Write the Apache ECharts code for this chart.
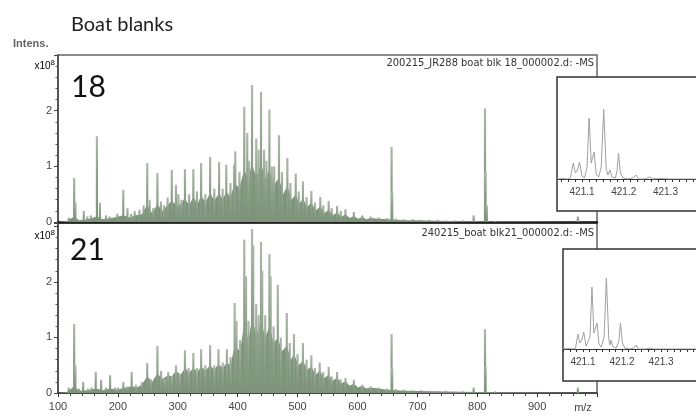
<!DOCTYPE html>
<html><head><meta charset="utf-8">
<script src="https://cdn.jsdelivr.net/npm/echarts@6/dist/echarts.min.js"></script>
<style>html,body{margin:0;padding:0;background:#fff}#c{width:696px;height:417px}</style>
</head><body><div id="c"></div>
<script>
// ---- data (intensity in units of 1e8, m/z) ----
const topFill = [[100,0],[115,0.02],[127,0.1],[135,0.03],[150,0.05],[165,0.1],[175,0.05],[190,0.07],[209,0.12],[220,0.08],[230,0.12],[240,0.14],[249,0.3],[257,0.16],[266,0.32],[274,0.2],[283,0.3],[290,0.38],[300,0.28],[312,0.42],[319,0.3],[326,0.45],[333,0.32],[339,0.48],[346,0.35],[354,0.52],[361,0.38],[369,0.52],[375,0.4],[381,0.55],[388,0.45],[395,0.7],[403,0.6],[411,0.95],[417,0.75],[424,1.05],[431,0.8],[439,1.05],[446,0.78],[453,0.95],[460,0.65],[469,0.8],[476,0.5],[483,0.65],[490,0.4],[497,0.5],[503,0.33],[509,0.42],[516,0.27],[523,0.35],[530,0.2],[538,0.28],[545,0.16],[552,0.22],[559,0.12],[566,0.17],[573,0.09],[580,0.14],[587,0.07],[594,0.11],[601,0.06],[608,0.09],[615,0.05],[622,0.07],[636,0.06],[650,0.05],[680,0.03],[700,0.03],[750,0.02],[800,0.015],[900,0.008],[1000,0]];
const topPeaks = [[118,0.08],[127,0.79],[129,0.36],[143,0.2],[149,0.1],[155,0.12],[165,1.54],[170,0.35],[180,0.12],[186,0.1],[199,0.15],[209,0.58],[216,0.25],[222,0.15],[228,0.2],[236,0.22],[243,0.3],[249,1.06],[253,0.4],[259,0.25],[266,0.88],[272,0.37],[277,0.3],[283,0.44],[290,0.94],[297,0.67],[301,0.5],[306,0.4],[312,0.95],[319,0.5],[326,0.95],[332,0.55],[339,1.06],[346,0.5],[354,1.17],[361,0.6],[369,1.08],[375,0.6],[381,1.03],[388,0.7],[394,1.03],[396,1.27],[403,0.9],[411,2.07],[416,1.6],[419,1.1],[424,2.46],[431,1.5],[435,1.3],[439,2.34],[444,1.3],[448,1.1],[453,2.02],[457,1.0],[461,1.0],[469,1.56],[474,0.9],[483,1.15],[488,0.7],[497,0.87],[502,0.55],[509,0.73],[515,0.45],[523,0.56],[529,0.35],[538,0.45],[543,0.3],[552,0.38],[557,0.25],[566,0.29],[572,0.2],[580,0.23],[594,0.18],[608,0.12],[622,0.1],[636,0.08],[650,0.07],[657,1.35],[658,0.55],[664,0.06],[678,0.05],[692,0.05],[706,0.04],[720,0.04],[734,0.04],[748,0.03],[762,0.03],[776,0.03],[794,0.12],[813,2.04],[814,0.9],[816,0.3],[830,0.02],[968,0.1]];
const botFill = [[100,0],[115,0.02],[127,0.12],[135,0.04],[150,0.05],[163,0.08],[175,0.05],[187,0.08],[200,0.06],[209,0.09],[223,0.12],[232,0.1],[240,0.15],[249,0.3],[257,0.2],[266,0.35],[274,0.25],[284,0.32],[290,0.3],[297,0.4],[305,0.33],[312,0.45],[319,0.37],[326,0.45],[333,0.38],[339,0.48],[346,0.4],[354,0.5],[361,0.42],[368,0.52],[375,0.45],[382,0.55],[388,0.5],[395,0.85],[404,0.75],[411,1.25],[418,0.95],[424,1.35],[431,1.05],[439,1.3],[446,1.0],[453,1.2],[460,0.9],[467,1.0],[474,0.75],[482,0.85],[489,0.6],[494,0.7],[502,0.5],[509,0.58],[516,0.42],[523,0.48],[530,0.33],[537,0.4],[545,0.27],[552,0.33],[559,0.22],[566,0.28],[573,0.17],[580,0.21],[587,0.13],[594,0.17],[601,0.1],[608,0.13],[615,0.08],[622,0.1],[636,0.08],[650,0.06],[680,0.04],[700,0.035],[750,0.025],[800,0.02],[850,0.015],[900,0.01],[1000,0]];
const botPeaks = [[118,0.1],[127,1.24],[129,0.5],[135,0.08],[142,0.2],[150,0.08],[156,0.1],[163,0.38],[172,0.24],[180,0.1],[187,0.32],[195,0.1],[200,0.1],[209,0.2],[216,0.12],[223,0.38],[230,0.15],[240,0.2],[249,0.54],[255,0.25],[266,0.85],[272,0.4],[278,0.25],[284,0.38],[290,0.3],[297,0.5],[303,0.35],[312,0.77],[318,0.45],[326,0.72],[332,0.45],[339,0.79],[346,0.5],[354,0.86],[361,0.5],[368,0.79],[375,0.55],[382,0.79],[388,0.65],[395,1.62],[398,1.3],[404,0.95],[411,2.76],[414,2.1],[418,1.3],[424,2.95],[426,2.66],[431,1.6],[435,1.4],[439,2.72],[441,2.2],[446,1.4],[453,2.5],[455,2.1],[460,1.2],[467,1.95],[472,1.0],[482,1.44],[487,0.9],[494,1.06],[500,0.7],[509,0.9],[515,0.6],[523,0.68],[529,0.45],[537,0.55],[543,0.38],[552,0.47],[557,0.3],[566,0.38],[572,0.25],[580,0.27],[594,0.24],[608,0.15],[622,0.12],[636,0.1],[650,0.08],[657,1.06],[658,0.45],[664,0.07],[678,0.06],[692,0.05],[706,0.05],[720,0.04],[734,0.04],[748,0.04],[762,0.03],[776,0.03],[794,0.1],[813,1.15],[814,0.5],[830,0.03],[968,0.1]];
// insets: m/z vs relative intensity
const insetTop = [[421.04,0],[421.055,0.5],[421.065,0],[421.072,1],[421.079,16],[421.084,6],[421.089,9],[421.094,17],[421.1,3],[421.106,1],[421.112,12],[421.117,61],[421.122,16],[421.125,15],[421.129,27],[421.134,5],[421.14,2],[421.146,12],[421.152,70],[421.158,10],[421.162,4],[421.167,9],[421.172,2],[421.18,1],[421.184,8],[421.1875,26],[421.192,6],[421.198,1],[421.21,0],[421.222,1],[421.229,4],[421.236,0],[421.25,0],[421.262,2],[421.27,0],[421.29,0.5],[421.31,0],[421.38,0]];
const insetBot = [[421.049,0],[421.065,0.5],[421.075,0],[421.081,1],[421.087,15],[421.092,6],[421.097,9],[421.102,17],[421.108,3],[421.113,1],[421.118,12],[421.123,62],[421.128,16],[421.131,15],[421.136,26],[421.141,5],[421.147,2],[421.154,12],[421.16,71],[421.166,10],[421.169,4],[421.172,9],[421.177,2],[421.185,1],[421.192,8],[421.196,26],[421.201,6],[421.207,1],[421.22,0],[421.23,1],[421.236,4],[421.242,0],[421.26,0],[421.272,1],[421.28,0],[421.39,0]];
const insetLabels = [421.1, 421.2, 421.3];
const mainYLabels = [0, 1, 2];
const topTitle = '200215_JR288 boat blk 18_000002.d: -MS';
const botTitle = '240215_boat blk21_000002.d: -MS';

const GREEN = '#7d937a';
const SPIKE = {type:'linear', x:0, y:0, x2:0, y2:1, colorStops:[{offset:0, color:'#aeb8ac'}, {offset:0.45, color:'#8fa28c'}, {offset:1, color:'#7d937a'}]};
const insetTicksTop = [], insetTicksBot = [];
for (let k = 25262; k <= 25283; k++) { insetTicksTop.push(k/60); insetTicksBot.push(k/60); }

const chart = echarts.init(document.getElementById('c'), null, {renderer:'canvas'});
const txtFont = 'Liberation Sans';
function mainY(idx, max){
  return {gridIndex: idx, type:'value', min:0, max:max, interval:1,
    axisLine:{show:true, lineStyle:{color:'#444', width:1.5}},
    axisTick:{show:true, length:4, lineStyle:{color:'#444'}},
    minorTick:{show:true, splitNumber:5, length:2.5, lineStyle:{color:'#555'}},
    splitLine:{show:false},
    axisLabel:{margin:6, fontFamily:txtFont, fontSize:11, color:'#444',
      formatter: v => mainYLabels.indexOf(v) >= 0 ? String(v) : ''}};
}
function insetX(idx, min, max, ticks){
  return {gridIndex: idx, type:'value', min:min, max:max, z:12,
    axisLine:{show:true, onZero:false, lineStyle:{color:'#333', width:1}},
    axisTick:{show:true, customValues:ticks, length:3, lineStyle:{color:'#333'}},
    splitLine:{show:false},
    axisLabel:{customValues:insetLabels, margin:8, fontFamily:txtFont, fontSize:10, color:'#444', formatter: v => v.toFixed(1)}};
}
const option = {
  animation:false,
  grid:[
    {left:58, top:55, width:539, height:167, show:true, borderColor:'#666', borderWidth:1.5, backgroundColor:'transparent'},
    {left:58, top:223, width:539, height:170, show:true, borderColor:'#666', borderWidth:1.5, backgroundColor:'transparent'},
    {left:557, top:77, width:160, height:102},
    {left:563, top:249, width:160, height:100}
  ],
  xAxis:[
    {gridIndex:0, type:'value', min:100, max:1000, interval:100,
      axisLine:{show:true, lineStyle:{color:'#222', width:2.5}}, axisTick:{show:false}, axisLabel:{show:false}, splitLine:{show:false}},
    {gridIndex:1, type:'value', min:100, max:1000, interval:100,
      axisLine:{show:true, lineStyle:{color:'#333', width:1.5}},
      axisTick:{show:true, length:4, lineStyle:{color:'#333'}},
      minorTick:{show:true, splitNumber:5, length:3, lineStyle:{color:'#444'}},
      splitLine:{show:false},
      axisLabel:{margin:8, fontFamily:txtFont, fontSize:11, color:'#444', formatter: v => v >= 1000 ? '' : String(v)}},
    insetX(2, 421.04, 421.3733, insetTicksTop),
    insetX(3, 421.0489, 421.3893, insetTicksBot)
  ],
  yAxis:[ mainY(0, 3.0), mainY(1, 3.06),
    {gridIndex:2, type:'value', min:0, max:102, show:false},
    {gridIndex:3, type:'value', min:0, max:100, show:false}
  ],
  series:[
    {type:'line', xAxisIndex:0, yAxisIndex:0, data:topFill, showSymbol:false, symbol:'none', lineStyle:{width:0}, areaStyle:{color:GREEN, opacity:1}, z:2},
    {type:'bar', xAxisIndex:0, yAxisIndex:0, data:topPeaks, barWidth:2.2, itemStyle:{color:SPIKE}, z:3},
    {type:'line', xAxisIndex:1, yAxisIndex:1, data:botFill, showSymbol:false, symbol:'none', lineStyle:{width:0}, areaStyle:{color:GREEN, opacity:1}, z:2},
    {type:'bar', xAxisIndex:1, yAxisIndex:1, data:botPeaks, barWidth:2.2, itemStyle:{color:SPIKE}, z:3},
    {type:'line', xAxisIndex:2, yAxisIndex:2, data:insetTop, showSymbol:false, symbol:'none', lineStyle:{color:'#a0a0a0', width:1}, z:12},
    {type:'line', xAxisIndex:3, yAxisIndex:3, data:insetBot, showSymbol:false, symbol:'none', lineStyle:{color:'#a0a0a0', width:1}, z:12}
  ],
  graphic:[
    {type:'rect', z:8, shape:{x:557, y:77, width:160, height:134}, style:{fill:'#fff', stroke:'#333', lineWidth:1.5}},
    {type:'rect', z:8, shape:{x:563, y:249, width:160, height:132}, style:{fill:'#fff', stroke:'#333', lineWidth:1.5}},
    {type:'text', z:20, style:{x:71, y:25, text:'Boat blanks', font:'20px Lato', fill:'#222', textVerticalAlign:'middle'}},
    {type:'text', z:20, style:{x:13, y:44, text:'Intens.', font:'bold 11px "Liberation Sans Narrow", "Liberation Sans"', fill:'#666', textVerticalAlign:'middle'}},
    {type:'text', z:20, style:{x:55, y:66, text:'{a|x10}{b|8}', textAlign:'right', textVerticalAlign:'middle', rich:{a:{fontSize:10, fontFamily:txtFont, color:'#444'}, b:{fontSize:8, fontFamily:txtFont, color:'#444', verticalAlign:'top', padding:[0,0,6,0]}}}},
    {type:'text', z:20, style:{x:55, y:236, text:'{a|x10}{b|8}', textAlign:'right', textVerticalAlign:'middle', rich:{a:{fontSize:10, fontFamily:txtFont, color:'#444'}, b:{fontSize:8, fontFamily:txtFont, color:'#444', verticalAlign:'top', padding:[0,0,6,0]}}}},
    {type:'text', z:20, style:{x:71, y:87, text:'18', font:'30px Lato', fill:'#111', textVerticalAlign:'middle'}},
    {type:'text', z:20, style:{x:70, y:250, text:'21', font:'30px Lato', fill:'#111', textVerticalAlign:'middle'}},
    {type:'text', z:20, style:{x:594, y:63, text:topTitle, font:'11px "Liberation Sans Narrow", "DejaVu Sans Condensed"', fill:'#333', textAlign:'right', textVerticalAlign:'middle'}},
    {type:'text', z:20, style:{x:594, y:233, text:botTitle, font:'11px "Liberation Sans Narrow", "DejaVu Sans Condensed"', fill:'#333', textAlign:'right', textVerticalAlign:'middle'}},
    {type:'text', z:20, style:{x:583, y:408, text:'m/z', font:'11px "Liberation Sans"', fill:'#444', textAlign:'center', textVerticalAlign:'middle'}}
  ]
};
chart.setOption(option);
</script></body></html>
